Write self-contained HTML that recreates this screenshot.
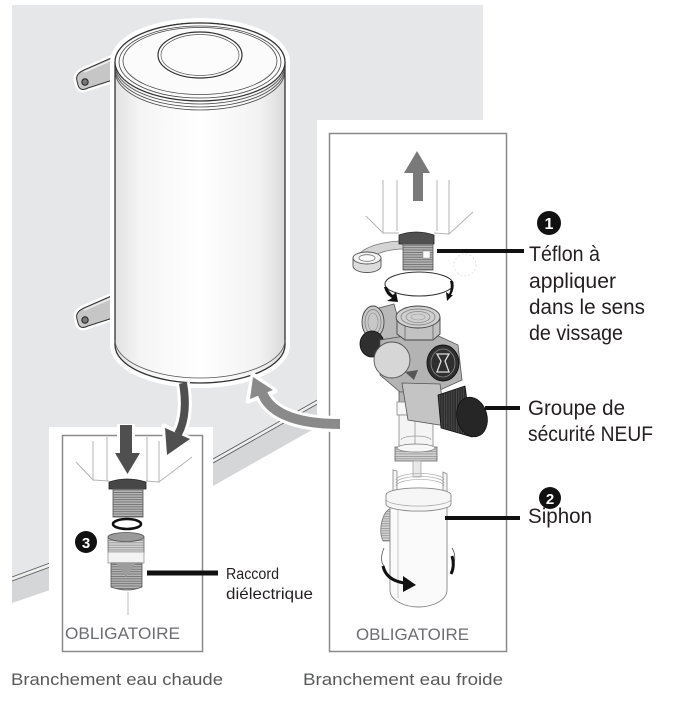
<!DOCTYPE html>
<html><head><meta charset="utf-8">
<style>
html,body{margin:0;padding:0;background:#fff;}
svg{display:block;}
text{font-family:"Liberation Sans",sans-serif;}
</style></head><body>
<svg width="675" height="701" viewBox="0 0 675 701" xmlns="http://www.w3.org/2000/svg">
<defs>
 <linearGradient id="tankg" x1="0" x2="1" y1="0" y2="0">
  <stop offset="0" stop-color="#e2e2e2"/>
  <stop offset="0.15" stop-color="#f5f5f5"/>
  <stop offset="0.5" stop-color="#ffffff"/>
  <stop offset="0.85" stop-color="#f2f2f2"/>
  <stop offset="1" stop-color="#dadada"/>
 </linearGradient>
 <pattern id="thr" width="6" height="2.4" patternUnits="userSpaceOnUse">
  <rect width="6" height="2.4" fill="#b4b4b4"/><rect width="6" height="0.8" fill="#6a6a6a"/>
 </pattern>
 <pattern id="thrL" width="6" height="2.4" patternUnits="userSpaceOnUse">
  <rect width="6" height="2.4" fill="#d2d2d2"/><rect width="6" height="0.7" fill="#8a8a8a"/>
 </pattern>
 <pattern id="knurl" width="2.4" height="6" patternUnits="userSpaceOnUse">
  <rect width="2.4" height="6" fill="#2c2c2c"/><rect width="0.7" height="6" fill="#555"/>
 </pattern>
</defs>
<rect width="675" height="701" fill="#fff"/>

<!-- wall -->
<polygon points="12,5 483,5 483,310 330,393 213,459 50,563 12,577" fill="#e6e7e8"/>
<!-- baseboard left -->
<polygon points="12,577 50,563 50,590 12,603" fill="#d5d6d7"/>
<polygon points="12,577 50,563 50,567 12,581" fill="#eeeeee"/>
<line x1="12" y1="577" x2="50" y2="563" stroke="#555" stroke-width="0.8"/>
<line x1="12" y1="581" x2="50" y2="567" stroke="#555" stroke-width="0.8"/>
<!-- baseboard right -->
<polygon points="213,459 335,390 335,417 213,486" fill="#d5d6d7"/>
<polygon points="213,459 335,390 335,394 213,463" fill="#eeeeee"/>
<line x1="213" y1="459" x2="335" y2="390" stroke="#555" stroke-width="0.8"/>
<line x1="213" y1="463" x2="335" y2="394" stroke="#555" stroke-width="0.8"/>

<!-- brackets -->
<g id="br">
 <path d="M116 56 L84 70 Q75 74 77 81 L78 85 Q80 92 88 88 L116 79 Z" fill="none" stroke="#fff" stroke-width="6"/>
 <path d="M116 56 L84 70 Q75 74 77 81 L78 85 Q80 92 88 88 L116 79 Z" fill="#c6c6c6" stroke="#333" stroke-width="1"/>
 <path d="M112 60 L84 72" stroke="#eee" stroke-width="1.5"/>
 <circle cx="85" cy="82" r="3.2" fill="#777" stroke="#222" stroke-width="1"/>
</g>
<use href="#br" transform="translate(0,238)"/>

<!-- tank -->
<path d="M115 62 A85 39 0 0 1 285 62 L285 345 A85 38 0 0 1 115 345 Z" fill="none" stroke="#fff" stroke-width="10"/>
<path d="M115 62 A85 39 0 0 1 285 62 L285 345 A85 38 0 0 1 115 345 Z" fill="url(#tankg)" stroke="#333" stroke-width="1.3"/>
<path d="M115 340 A85 38 0 0 0 285 340" fill="none" stroke="#555" stroke-width="0.8"/>
<path d="M115 71 A85 39 0 0 0 285 71" fill="none" stroke="#444" stroke-width="0.8"/>
<path d="M115 68 A85 39 0 0 0 285 68" fill="none" stroke="#444" stroke-width="0.8"/>
<path d="M115 65 A85 39 0 0 0 285 65" fill="none" stroke="#444" stroke-width="0.8"/>
<ellipse cx="200" cy="62" rx="85" ry="39" fill="#fbfbfb" stroke="#333" stroke-width="1.2"/>
<ellipse cx="200" cy="62" rx="81" ry="36" fill="none" stroke="#444" stroke-width="0.8"/>
<ellipse cx="200" cy="61" rx="77" ry="33.5" fill="none" stroke="#444" stroke-width="0.8"/>
<ellipse cx="200" cy="55" rx="42" ry="23" fill="#fcfcfc" stroke="#333" stroke-width="1.2"/>
<ellipse cx="200" cy="55" rx="39" ry="20.5" fill="none" stroke="#555" stroke-width="0.7"/>

<!-- panels -->
<rect x="49" y="427" width="164" height="274" fill="#fff"/>
<rect x="317" y="120" width="202" height="581" fill="#fff"/>
<rect x="62.5" y="435.5" width="140" height="216" fill="none" stroke="#8a8a8a" stroke-width="1.5"/>
<rect x="329.5" y="133.5" width="177" height="518" fill="none" stroke="#8a8a8a" stroke-width="1.5"/>

<!-- left panel wedge pipe -->
<g stroke="#b5b5b5" stroke-width="1" fill="none">
 <path d="M93 441 L93 480 L76 462"/>
 <path d="M107 437 L107 481"/>
 <path d="M147 437 L147 481"/>
 <path d="M159 441 L159 482 L192 457"/>
 <path d="M93 480 L109 481 M146 481 L159 482"/>
</g>
<!-- left fitting -->
<path d="M109 482 Q127 476 146 482 L146 489 L109 489 Z" fill="#474747" stroke="#222" stroke-width="0.8"/>
<rect x="113" y="489" width="30" height="28" fill="url(#thr)" stroke="#555" stroke-width="0.8"/>
<ellipse cx="127" cy="524" rx="14" ry="5" fill="none" stroke="#111" stroke-width="2.6"/>
<!-- raccord -->
<rect x="108" y="537" width="36" height="16" fill="url(#thrL)" stroke="#666" stroke-width="0.8"/>
<ellipse cx="126" cy="537" rx="18" ry="4.5" fill="#9a9a9a" stroke="#555" stroke-width="0.8"/>
<rect x="108" y="552" width="36" height="11" fill="#f3f3f3" stroke="#999" stroke-width="0.8"/>
<path d="M111 563 L142 563 L142 587 Q127 593 111 587 Z" fill="url(#thr)" stroke="#555" stroke-width="0.8"/>
<path d="M116 563 L126 577 L136 563 Z" fill="#9d9d9d"/>
<line x1="128" y1="592" x2="128" y2="615" stroke="#bbb" stroke-width="1"/>

<!-- right panel wedge pipe -->
<g stroke="#b5b5b5" stroke-width="1" fill="none">
 <path d="M383 180 L383 233 L366 216"/>
 <path d="M397 180 L397 231"/>
 <path d="M437 180 L437 231"/>
 <path d="M449 180 L449 234 L473 212"/>
 <path d="M383 233 L399 233 M434 233 L449 234"/>
</g>
<!-- teflon tape strip -->
<path d="M360 253 C370 244 390 241 404 241 L404 249 C392 249 378 252 373 257 Z" fill="#d4d4d4" stroke="#777" stroke-width="0.8"/>
<!-- right fitting -->
<path d="M399 235 Q416 229 434 235 L434 244 L399 244 Z" fill="#505050" stroke="#222" stroke-width="0.8"/>
<rect x="403" y="244" width="30" height="26" fill="url(#thr)" stroke="#555" stroke-width="0.8"/>
<rect x="423" y="251" width="7" height="7" fill="#fff" stroke="#888" stroke-width="0.5"/>
<!-- tape roll -->
<path d="M353 258 L353 266 A14 6.5 0 0 0 381 266 L381 258 Z" fill="#dcdcdc" stroke="#555" stroke-width="0.9"/>
<ellipse cx="367" cy="258" rx="14" ry="6" fill="#f3f3f3" stroke="#555" stroke-width="0.9"/>
<ellipse cx="367" cy="258" rx="8" ry="3.3" fill="#fff" stroke="#777" stroke-width="0.8"/>
<circle cx="465" cy="265" r="11" fill="none" stroke="#ddd" stroke-width="0.8" stroke-dasharray="2 2"/>
<!-- circular rotation arrow -->
<ellipse cx="419" cy="284" rx="34" ry="12" fill="none" stroke="#333" stroke-width="1"/>
<path d="M384 287 Q386 295 392 298 L387 301 L398 302 L396 292 L393 295 Q389 292 387 287 Z" fill="#111"/>
<path d="M450 281 Q452 288 449 294 L446 292 L447 301 L453 295 L451 295 Q455 288 453 281 Z" fill="#111"/>

<!-- safety group -->
<rect x="399" y="378" width="34" height="26" fill="#b5b5b5" stroke="#555" stroke-width="0.8"/>
<rect x="397" y="402" width="38" height="13" fill="#f7f7f7" stroke="#888" stroke-width="0.8"/>
<rect x="399" y="415" width="34" height="32" fill="#f4f4f4" stroke="#888" stroke-width="0.8"/>
<line x1="415" y1="417" x2="415" y2="445" stroke="#999" stroke-width="0.8"/>
<path d="M401 440 A15 4 0 0 1 431 440" fill="none" stroke="#999" stroke-width="0.7"/>
<rect x="395" y="447" width="42" height="14" fill="url(#thrL)" stroke="#666" stroke-width="0.8"/>
<ellipse cx="416" cy="448" rx="19" ry="4" fill="#f7f7f7" stroke="#777" stroke-width="0.7"/>
<path d="M364 312 L394 304 L403 336 L376 360 Z" fill="#b9b9b9" stroke="#555" stroke-width="0.8"/>
<ellipse cx="373" cy="322" rx="11" ry="16" fill="#c8c8c8" stroke="#444" stroke-width="0.9"/>
<ellipse cx="373" cy="322" rx="8" ry="12.5" fill="none" stroke="#777" stroke-width="0.7"/>
<ellipse cx="373" cy="322" rx="5" ry="9" fill="none" stroke="#888" stroke-width="0.6"/>
<ellipse cx="372" cy="344" rx="12" ry="13" fill="#2f2f2f" stroke="#111" stroke-width="0.8"/>
<path d="M380 340 L430 332 L458 345 L462 380 L440 390 L400 392 L380 375 Z" fill="#b3b3b3" stroke="#555" stroke-width="0.8"/>
<path d="M397 317 L397 334 L405 340 L433 340 L440 334 L440 317 Z" fill="#c2c2c2" stroke="#444" stroke-width="0.9"/>
<path d="M405 321 L405 340 M433 321 L433 340" stroke="#666" stroke-width="0.8"/>
<ellipse cx="418" cy="317" rx="22" ry="11" fill="#d0d0d0" stroke="#444" stroke-width="0.9"/>
<ellipse cx="418" cy="317" rx="17" ry="8" fill="none" stroke="#777" stroke-width="0.7"/>
<ellipse cx="418" cy="317" rx="12" ry="5.5" fill="none" stroke="#888" stroke-width="0.7"/>
<ellipse cx="418" cy="317" rx="7" ry="3" fill="none" stroke="#999" stroke-width="0.6"/>
<circle cx="392" cy="360" r="18" fill="#d6d6d6" stroke="#555" stroke-width="0.9"/>
<polygon points="405,372 418,370 414,380" fill="#555"/>
<ellipse cx="443" cy="363" rx="16" ry="18" fill="#2f2f2f" stroke="#111" stroke-width="0.9"/>
<ellipse cx="443" cy="363" rx="12" ry="14" fill="none" stroke="#888" stroke-width="0.8"/>
<path d="M437 354 L449 354 L445 361 L449 372 L437 372 L441 361 Z" fill="none" stroke="#ddd" stroke-width="1.3"/>
<path d="M402 383 L440 384 L446 426 L408 420 Z" fill="#c4c4c4" stroke="#555" stroke-width="0.8"/>
<path d="M438 395 L465 386 L472 437 L441 428 Z" fill="url(#knurl)" stroke="#111" stroke-width="0.8"/>
<ellipse cx="472" cy="417" rx="15" ry="20" transform="rotate(-15 472 417)" fill="#262626" stroke="#111" stroke-width="0.8"/>

<!-- siphon -->
<rect x="413" y="461" width="8" height="16" fill="#e8e8e8" stroke="#999" stroke-width="0.7"/>
<path d="M393 494 L393 470 L397 471 L397 494 M443 494 L443 472 L447 474 L447 494" fill="#f4f4f4" stroke="#888" stroke-width="0.8"/>
<path d="M396 480 A22 6 0 0 1 444 480 M396 483 A22 6 0 0 1 444 483 M396 486 A22 6 0 0 1 444 486" fill="none" stroke="#aaa" stroke-width="0.7"/>
<path d="M391 508 C382 512 378 530 383 541 L391 541 Z" fill="url(#thrL)" stroke="#777" stroke-width="0.8"/>
<path d="M390 505 L390 590 A28.5 17 0 0 0 447 590 L447 505 Z" fill="#fafafa" stroke="#888" stroke-width="0.9"/>
<line x1="398" y1="507" x2="398" y2="598" stroke="#e0e0e0" stroke-width="2"/>
<path d="M386 495 A32 7 0 0 1 451 495 L451 504 A32 7 0 0 1 386 504 Z" fill="#f6f6f6" stroke="#888" stroke-width="0.9"/>
<path d="M386 499 A32 7 0 0 0 451 499" fill="none" stroke="#aaa" stroke-width="0.7"/>
<path d="M384 548 Q379 560 384 566" fill="none" stroke="#555" stroke-width="0.8"/>
<path d="M452 548 Q457 556 453 566" fill="none" stroke="#555" stroke-width="0.8"/>
<path d="M383 566 Q386 580 404 583" fill="none" stroke="#111" stroke-width="3"/>
<polygon points="403,576 416,585 403,592" fill="#111"/>
<path d="M452 556 Q455 566 451 574" fill="none" stroke="#111" stroke-width="3"/>

<!-- arrows -->
<path d="M183 383 C186 400 186 420 178 434" fill="none" stroke="#fff" stroke-width="14"/>
<polygon points="167,456 164,426 192,440" fill="#fff" stroke="#fff" stroke-width="5" stroke-linejoin="round"/>
<path d="M183 383 C186 400 186 420 178 434" fill="none" stroke="#4f4f4f" stroke-width="8"/>
<polygon points="167,455 165,428 190,439" fill="#4f4f4f"/>
<rect x="117" y="424" width="18" height="32" fill="#fff"/>
<polygon points="112,451 143,451 127.5,478" fill="#fff"/>
<rect x="120" y="425" width="12" height="30" fill="#4f4f4f"/>
<polygon points="115,453 140,453 127.5,474" fill="#4f4f4f"/>
<path d="M262 392 C268 410 290 424 340 424" fill="none" stroke="#fff" stroke-width="16"/>
<polygon points="253,375 248,401 275,391" fill="#fff" stroke="#fff" stroke-width="5" stroke-linejoin="round"/>
<path d="M262 392 C268 410 290 424 340 424" fill="none" stroke="#8a8a8a" stroke-width="10"/>
<polygon points="253,377 250,399 273,390" fill="#8a8a8a"/>
<rect x="413" y="172" width="10" height="29" fill="#7a7a7a"/>
<polygon points="404,173 430,173 417,151" fill="#7a7a7a"/>

<!-- leader lines -->
<g stroke="#111" stroke-width="4">
 <line x1="437" y1="251" x2="524" y2="251"/>
 <line x1="485" y1="408" x2="520" y2="408"/>
 <line x1="445" y1="518" x2="520" y2="518"/>
 <line x1="147" y1="573" x2="218" y2="573" stroke-width="5"/>
</g>

<!-- numbered circles -->
<circle cx="549" cy="223" r="12" fill="#111"/>
<text x="549" y="229" font-size="16" font-weight="bold" fill="#fff" text-anchor="middle">1</text>
<circle cx="550" cy="498" r="11" fill="#111"/>
<text x="550" y="504" font-size="15" font-weight="bold" fill="#fff" text-anchor="middle">2</text>
<circle cx="86" cy="542" r="11" fill="#111"/>
<text x="86" y="548" font-size="15" font-weight="bold" fill="#fff" text-anchor="middle">3</text>

<!-- labels -->
<g fill="#231f20" font-size="21">
 <text x="529" y="261" textLength="71" lengthAdjust="spacingAndGlyphs">Téflon à</text>
 <text x="529" y="288" textLength="87" lengthAdjust="spacingAndGlyphs">appliquer</text>
 <text x="529" y="314" textLength="116" lengthAdjust="spacingAndGlyphs">dans le sens</text>
 <text x="529" y="340" textLength="94" lengthAdjust="spacingAndGlyphs">de vissage</text>
 <text x="528" y="415" textLength="97" lengthAdjust="spacingAndGlyphs">Groupe de</text>
 <text x="528" y="441" textLength="125" lengthAdjust="spacingAndGlyphs">sécurité NEUF</text>
 <text x="528" y="523" textLength="64" lengthAdjust="spacingAndGlyphs">Siphon</text>
</g>
<g fill="#231f20" font-size="16">
 <text x="226" y="579" textLength="53" lengthAdjust="spacingAndGlyphs">Raccord</text>
 <text x="226" y="599" textLength="87" lengthAdjust="spacingAndGlyphs">diélectrique</text>
</g>
<g fill="#6d6e71" font-size="17">
 <text x="65" y="639" textLength="115" lengthAdjust="spacingAndGlyphs">OBLIGATOIRE</text>
 <text x="356" y="640" textLength="113" lengthAdjust="spacingAndGlyphs">OBLIGATOIRE</text>
</g>
<g fill="#58595b" font-size="17">
 <text x="11" y="685" textLength="212" lengthAdjust="spacingAndGlyphs">Branchement eau chaude</text>
 <text x="303" y="685" textLength="200" lengthAdjust="spacingAndGlyphs">Branchement eau froide</text>
</g>
</svg>
</body></html>
